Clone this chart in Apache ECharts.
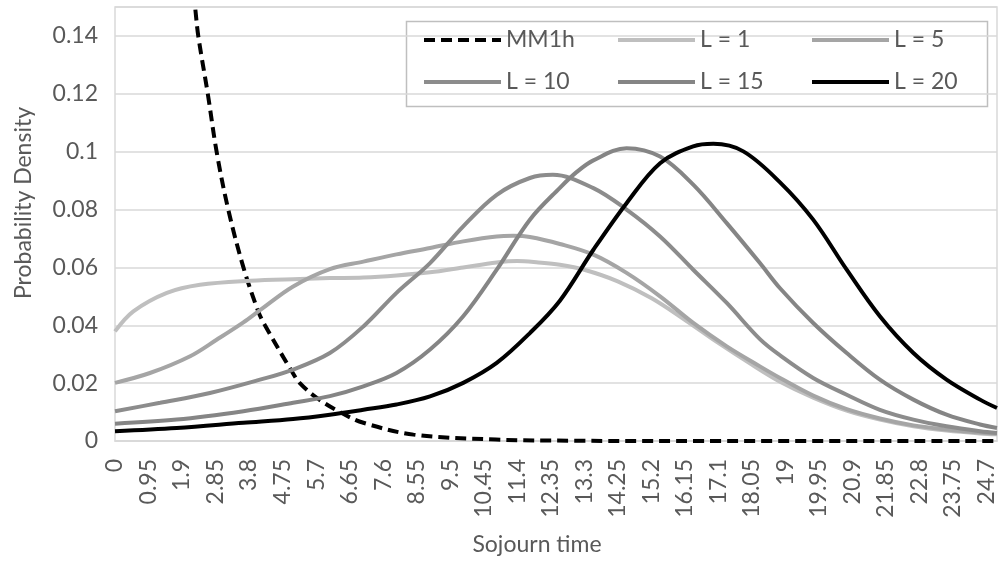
<!DOCTYPE html>
<html lang="en">
<head>
    <meta charset="UTF-8">
    <title>Sojourn time density</title>
    <script src="https://cdn.jsdelivr.net/npm/echarts@6.0.0/dist/echarts.min.js"></script>
    <style>
        html, body { margin: 0; padding: 0; background: #fff; }
        #chart-container { width: 999px; height: 562px; }
    </style>
</head>
<body>
    <div id="chart-container"></div>

    <script>
        // points, one x/y list per curve
        const mm1hX = [1.9, 2.27, 2.36, 2.63, 2.88, 3.21, 3.64, 4.06, 4.25, 5.01, 5.24, 5.72, 6.42, 7.04, 8.46, 10.8, 13, 16, 25];
        const mm1hY = [0.19, 0.150, 0.140, 0.120, 0.100, 0.080, 0.060, 0.0448, 0.040, 0.0241, 0.020, 0.0149,
            0.0097, 0.0063, 0.0022, 0.0005, 0.0001, 0, 0];

        const l1X = [0, 0.52, 1.47, 2.41, 3.83, 5.24, 6.09, 7.04, 7.98, 8.93, 9.87, 10.82, 11.4, 12.0, 12.61,
            13.3, 14.25, 15.2, 16.15, 17.1, 18.05, 18.85, 19.79, 20.74, 21.68, 22.63, 23.57, 24.52, 25];
        const l1Y = [0.0379, 0.0448, 0.0512, 0.0540, 0.0554, 0.0560, 0.0563, 0.0565, 0.0572, 0.0583, 0.0600, 0.0617,
            0.0622, 0.0617, 0.0609, 0.0592, 0.0552, 0.0494, 0.0419, 0.0339, 0.0264, 0.0205, 0.0150, 0.0105,
            0.0074, 0.0051, 0.0036, 0.0026, 0.0023];

        const l5X = [0, 0.99, 2.13, 2.88, 3.64, 4.11, 5.05, 6.09, 7.04, 7.98, 8.93, 9.87, 10.82, 11.29,
            11.76, 12.61, 13.56, 14.50, 15.45, 16.39, 17.34, 18.28, 18.85, 19.79, 20.74, 21.68, 22.63, 23.57, 24.52, 25];
        const l5Y = [0.0201, 0.0235, 0.0293, 0.0350, 0.0410, 0.0452, 0.0534, 0.0594, 0.0620, 0.0645, 0.0667,
            0.0690, 0.0707, 0.0709, 0.0705, 0.0681, 0.0644, 0.0581, 0.0500, 0.0408, 0.0327, 0.0258, 0.0218,
            0.0157, 0.0110, 0.0078, 0.0054, 0.0040, 0.0029, 0.0026];

        const l10X = [0, 1.28, 2.69, 4.11, 5.05, 6.09, 7.04, 7.98, 8.93, 9.87, 10.82, 11.76, 12.41, 13.56,
            14.50, 15.45, 16.39, 17.34, 18.28, 18.85, 19.79, 20.74, 21.68, 22.63, 23.57, 24.52, 25];
        const l10Y = [0.0103, 0.0132, 0.0166, 0.0212, 0.0247, 0.0304, 0.0396, 0.0512, 0.0615, 0.0742, 0.0851, 0.0909,
            0.0920, 0.0874, 0.0800, 0.0707, 0.0592, 0.0477, 0.0352, 0.0296, 0.0218, 0.0160, 0.0108, 0.0074,
            0.0051, 0.0034, 0.0028];

        const l15X = [0, 1.75, 3.64, 5.05, 6.09, 7.04, 7.98, 8.93, 9.87, 10.82, 11.76, 12.61, 13.09, 13.56,
            14.50, 15.45, 16.39, 17.34, 18.28, 18.85, 19.79, 20.74, 21.68, 22.63, 23.57, 24.52, 25];
        const l15Y = [0.0060, 0.0074, 0.0103, 0.0132, 0.0155, 0.0189, 0.0235, 0.0316, 0.0431, 0.0592, 0.0765, 0.0875,
            0.0930, 0.0970, 0.1012, 0.0983, 0.0886, 0.0753, 0.0615, 0.0528, 0.0408, 0.0304, 0.0212, 0.0143,
            0.0091, 0.0057, 0.0045];

        const l20X = [0, 1.75, 3.64, 5.05, 6.09, 7.04, 7.98, 8.93, 9.87, 10.82, 11.76, 12.61, 13.56, 14.50,
            15.45, 16.39, 16.96, 17.81, 18.85, 19.79, 20.74, 21.68, 22.63, 23.57, 24.52, 25];
        const l20Y = [0.0034, 0.0045, 0.0063, 0.0076, 0.0091, 0.0108, 0.0126, 0.0154, 0.0201, 0.0270, 0.0373, 0.0485,
            0.0661, 0.0822, 0.0960, 0.1018, 0.1027, 0.1001, 0.0894, 0.0765, 0.0592, 0.0431, 0.0304, 0.0212,
            0.0143, 0.0114];

        const seriesNames = ['MM1h', 'L = 1', 'L = 5', 'L = 10', 'L = 15', 'L = 20'];
        const seriesColors = ['#000000', '#bfbfbf', '#a5a5a5', '#8c8c8c', '#858585', '#000000'];
        const xStep = 0.95;
        const yStep = 0.02;

        const FONT = 'Lato';
        const TEXT = '#595959';
        const GRID = '#d9d9d9';
        const LINE_W = 4;

        // legend swatches: a plain bar, and a dashed one for MM1h
        const solidIcon = 'path://M0 0h77v4h-77z';
        const dashedIcon = 'path://M0 0h11v4h-11z M17 0h11v4h-11z M34 0h11v4h-11z M51 0h11v4h-11z M68 0h9v4h-9z';

        const zip = (xs, ys) => xs.map((x, i) => [x, ys[i]]);
        const seriesData = [zip(mm1hX, mm1hY), zip(l1X, l1Y), zip(l5X, l5Y),
            zip(l10X, l10Y), zip(l15X, l15Y), zip(l20X, l20Y)];

        const chart = echarts.init(document.getElementById('chart-container'), null, { renderer: 'canvas' });

        const series = seriesNames.map((name, i) => ({
            name: name,
            type: 'line',
            data: seriesData[i],
            showSymbol: false,
            symbol: 'none',
            smooth: 0.35,
            clip: true,
            lineStyle: {
                color: seriesColors[i],
                width: LINE_W,
                type: i === 0 ? [11, 6] : 'solid'
            },
            itemStyle: { color: seriesColors[i] }
        }));

        // one legend per item so the columns line up like the original
        const legendCols = [424, 618, 812];
        const legends = seriesNames.map((name, i) => ({
            data: [name],
            left: legendCols[i % 3],
            top: i < 3 ? 28.5 : 70.5,
            padding: 0,
            icon: i === 0 ? dashedIcon : solidIcon,
            itemWidth: 77,
            itemHeight: 4,
            selectedMode: false,
            textStyle: { fontFamily: FONT, fontSize: 23, color: TEXT }
        }));

        const option = {
            animation: false,
            backgroundColor: '#fff',
            grid: {
                left: 115, right: 2, top: 7, bottom: 121,
                show: true, borderColor: GRID, borderWidth: 1.5,
                outerBoundsMode: 'none'
            },
            legend: legends,
            graphic: [{
                type: 'rect',
                left: 404, top: 19,
                shape: { width: 581, height: 85 },
                style: { fill: 'none', stroke: '#bfbfbf', lineWidth: 1.5 },
                silent: true
            }],
            xAxis: {
                type: 'value',
                min: 0, max: 25, interval: xStep,
                name: 'Sojourn time',
                nameLocation: 'middle',
                nameGap: 92,
                nameTextStyle: { fontFamily: FONT, fontSize: 23, color: TEXT, padding: [0, 38, 0, 0] },
                axisLine: { show: true, lineStyle: { color: GRID, width: 1.5 } },
                axisTick: { show: false },
                splitLine: { show: false },
                axisLabel: {
                    rotate: 90,
                    margin: 18,
                    padding: [6, 0, 0, 0],
                    showMaxLabel: false,
                    fontFamily: FONT, fontSize: 23, color: TEXT,
                    formatter: v => String(parseFloat(v.toFixed(2)))
                }
            },
            yAxis: {
                type: 'value',
                min: 0, max: 0.15, interval: yStep,
                name: 'Probability Density',
                nameLocation: 'middle',
                nameGap: 80,
                nameTextStyle: { fontFamily: FONT, fontSize: 23, color: TEXT, padding: [0, 0, 0, 42] },
                axisLine: { show: false },
                axisTick: { show: false },
                splitLine: { show: true, lineStyle: { color: GRID, width: 1.5 } },
                axisLabel: {
                    margin: 17,
                    showMaxLabel: false,
                    fontFamily: FONT, fontSize: 23, color: TEXT,
                    formatter: v => String(parseFloat(v.toFixed(2)))
                }
            },
            series: series
        };

        chart.setOption(option);
    </script>
</body>
</html>
